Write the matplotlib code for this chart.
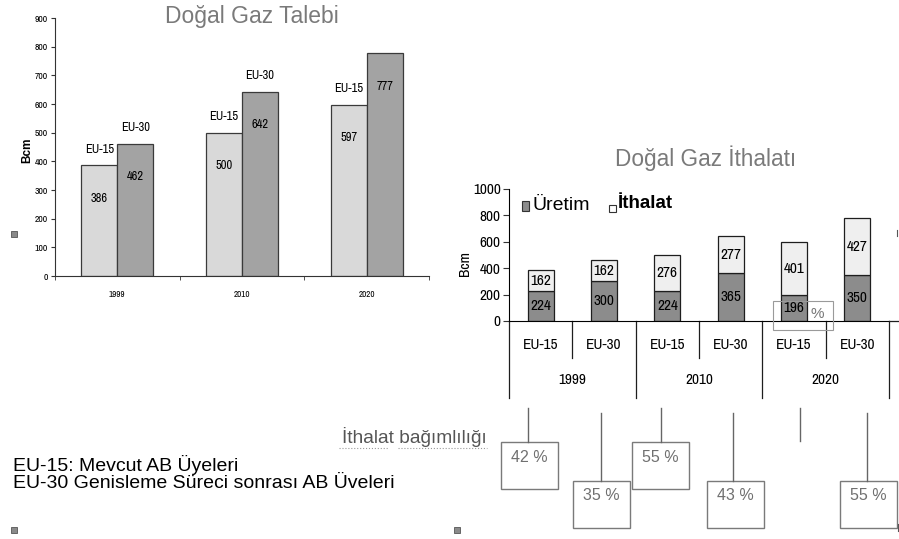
import numpy as np
import matplotlib
matplotlib.use('Agg')
import matplotlib.pyplot as plt
from matplotlib.patches import Rectangle
from matplotlib.lines import Line2D
import matplotlib.transforms as mtransforms

# data
years = ['1999', '2010', '2020']
demand_eu15 = [386, 500, 597]
demand_eu30 = [462, 642, 777]

groups = ['EU-15', 'EU-30', 'EU-15', 'EU-30', 'EU-15', 'EU-30']
production = [224, 300, 224, 365, 196, 350]
imports = [162, 162, 276, 277, 401, 427]
dependency = ['42 %', '35 %', '55 %', '43 %', '', '55 %']

W, H = 899, 539
NARROW = ['Archivo Narrow', 'Liberation Sans Narrow', 'Liberation Sans', 'DejaVu Sans']
plt.rcParams['font.family'] = ['Liberation Sans', 'DejaVu Sans']

def fx(x):
    return x / W

def fy(y):
    return 1 - y / H

def box(x0, y0, x1, y1):
    return [fx(x0), fy(y1), (x1 - x0) / W, (y1 - y0) / H]

fig = plt.figure(figsize=(W / 100, H / 100), dpi=100)
fig.patch.set_facecolor('white')

# ---- left chart: demand
ax1 = fig.add_axes(box(55, 18, 429, 276))
x = np.arange(len(years))
bw = 0.29
b15 = ax1.bar(x - bw / 2, demand_eu15, bw, color='#d9d9d9', edgecolor='#3a3a3a', lw=0.9)
b30 = ax1.bar(x + bw / 2, demand_eu30, bw, color='#a3a3a3', edgecolor='#3a3a3a', lw=0.9)
for i, r in enumerate(b15):
    cx = r.get_x() + r.get_width() / 2
    ax1.annotate('EU-15', (cx, demand_eu15[i]), xytext=(0, 16), textcoords='offset pixels',
                 ha='center', va='center', fontsize=9, family=NARROW)
    ax1.annotate(str(demand_eu15[i]), (cx, demand_eu15[i]), xytext=(0, -33), textcoords='offset pixels',
                 ha='center', va='center', fontsize=9, family=NARROW)
for i, r in enumerate(b30):
    cx = r.get_x() + r.get_width() / 2
    if i < 2:
        ax1.annotate('EU-30', (cx, demand_eu30[i]), xytext=(0, 16), textcoords='offset pixels',
                     ha='center', va='center', fontsize=9, family=NARROW)
    ax1.annotate(str(demand_eu30[i]), (cx, demand_eu30[i]), xytext=(0, -33), textcoords='offset pixels',
                 ha='center', va='center', fontsize=9, family=NARROW)

ax1.set_xlim(-0.5, 2.5)
ax1.set_ylim(0, 900)
ax1.set_yticks(range(0, 901, 100))
ax1.set_xticks(x, years)
ax1.set_xticks([-0.5, 0.5, 1.5, 2.5], minor=True)
ax1.tick_params(axis='x', which='major', length=0, pad=10, labelsize=6.5)
ax1.tick_params(axis='x', which='minor', length=3, color='#333333')
ax1.tick_params(axis='y', length=3, labelsize=7, pad=2, color='#333333')
for lab in ax1.get_xticklabels() + ax1.get_yticklabels():
    lab.set_family(NARROW)
for s in ['top', 'right']:
    ax1.spines[s].set_visible(False)
for s in ['left', 'bottom']:
    ax1.spines[s].set_color('#333333')
fig.text(fx(27), fy(150), 'Bcm', rotation=90, ha='center', va='center', fontsize=8.5, fontweight='bold')
fig.text(fx(252), fy(17), 'Doğal Gaz Talebi', ha='center', va='center', fontsize=16.5, color='#7a7a7a')

# ---- right chart: imports
ax2 = fig.add_axes(box(509, 189, 889, 321))
x2 = np.arange(len(groups))
bw2 = 0.41
p = ax2.bar(x2, production, bw2, color='#8c8c8c', edgecolor='#1e1e1e', lw=0.9)
q = ax2.bar(x2, imports, bw2, bottom=production, color='#efefef', edgecolor='#1e1e1e', lw=0.9)
ax2.bar_label(p, label_type='center', fontsize=11, family=NARROW)
ax2.bar_label(q, label_type='center', fontsize=11, family=NARROW)
ax2.set_xlim(-0.5, 5.5)
ax2.set_ylim(0, 1000)
ax2.set_yticks(range(0, 1001, 200))
ax2.set_xticks([])
ax2.tick_params(axis='y', length=4, labelsize=11, pad=2, color='#333333')
for lab in ax2.get_yticklabels():
    lab.set_family(NARROW)
for s in ['top', 'right']:
    ax2.spines[s].set_visible(False)
fig.text(fx(465), fy(263), 'Bcm', rotation=90, ha='center', va='center', fontsize=11, family=NARROW)

trans = mtransforms.blended_transform_factory(ax2.transData, ax2.transAxes)
for i, g in enumerate(groups):
    ax2.text(i, -0.182, g, transform=trans, ha='center', va='center', fontsize=11, family=NARROW)
for j, yr in enumerate(years):
    ax2.text(2 * j + 0.5, -0.447, yr, transform=trans, ha='center', va='center', fontsize=11, family=NARROW)
for xs in [0.5, 2.5, 4.5]:
    ax2.add_line(Line2D([xs, xs], [0, -0.28], transform=trans, color='#1e1e1e', lw=0.9, clip_on=False))
for xs in [-0.5, 1.5, 3.5, 5.5]:
    ax2.add_line(Line2D([xs, xs], [0, -0.583], transform=trans, color='#1e1e1e', lw=0.9, clip_on=False))
fig.add_artist(Line2D([fx(889), fx(898)], [fy(321), fy(321)], color='#1e1e1e', lw=0.9))

fig.text(fx(706), fy(158), 'Doğal Gaz İthalatı', ha='center', va='center', fontsize=16.3, color='#7a7a7a')

# legend
fig.add_artist(Rectangle((fx(522), fy(211)), 7 / W, 10 / H, transform=fig.transFigure,
                         facecolor='#8c8c8c', edgecolor='#333333', lw=0.8))
fig.text(fx(533), fy(205), 'Üretim', ha='left', va='center', fontsize=14)
fig.add_artist(Rectangle((fx(609), fy(212)), 7 / W, 7 / H, transform=fig.transFigure,
                         facecolor='white', edgecolor='#333333', lw=0.8))
fig.text(fx(618), fy(203), 'İthalat', ha='left', va='center', fontsize=13.5, fontweight='bold')

# small box near 2020 EU-15
fig.add_artist(Rectangle((fx(773), fy(330)), 60 / W, 29 / H, transform=fig.transFigure,
                         facecolor='none', edgecolor='#9a9a9a', lw=0.8))
fig.text(fx(817), fy(314), '%', ha='center', va='center', fontsize=11, color='#777777')

# ---- import dependency boxes
box_pos = [(501, 442), (573, 481), (632, 442), (707, 481), (0, 0), (840, 481)]
line_x = [528, 601, 661, 733, 800, 867]
for k, lab in enumerate(dependency):
    lx = line_x[k]
    if lab:
        bx, by = box_pos[k]
        top = 408 if by == 442 else 413
        fig.add_artist(Line2D([fx(lx), fx(lx)], [fy(top), fy(by)], color='#666666', lw=1))
        fig.add_artist(Rectangle((fx(bx), fy(by + 47)), 57 / W, 47 / H, transform=fig.transFigure,
                                 facecolor='white', edgecolor='#7a7a7a', lw=1))
        fig.text(fx(bx + 28.5), fy(by + 15), lab, ha='center', va='center', fontsize=11.5, color='#707070')
    else:
        fig.add_artist(Line2D([fx(lx), fx(lx)], [fy(408), fy(441)], color='#666666', lw=1))

fig.text(fx(487), fy(437), 'İthalat bağımlılığı', ha='right', va='center', fontsize=13.8, color='#555555')
fig.add_artist(Line2D([fx(339), fx(389)], [fy(448), fy(448)], color='#999999', lw=0.8, ls=':'))
fig.add_artist(Line2D([fx(398), fx(487)], [fy(448), fy(448)], color='#999999', lw=0.8, ls=':'))

fig.text(fx(13), fy(465), 'EU-15: Mevcut AB Üyeleri', ha='left', va='center', fontsize=14)
fig.text(fx(13), fy(484), 'EU-30 Genisleme Süreci sonrası AB Üveleri', ha='left', va='center', fontsize=14)

# slide bullet markers
for (sx, sy) in [(14, 234), (14, 530), (457, 530)]:
    fig.add_artist(Rectangle((fx(sx - 3), fy(sy + 3)), 6 / W, 6 / H, transform=fig.transFigure,
                             facecolor='#8a8a8a', edgecolor='#555555', lw=0.6))
fig.add_artist(Line2D([fx(897), fx(897)], [fy(230), fy(236)], color='#555555', lw=0.8))
fig.add_artist(Line2D([fx(898), fx(898)], [fy(524), fy(531)], color='#555555', lw=0.8))

fig.savefig('out.png', dpi=100)
